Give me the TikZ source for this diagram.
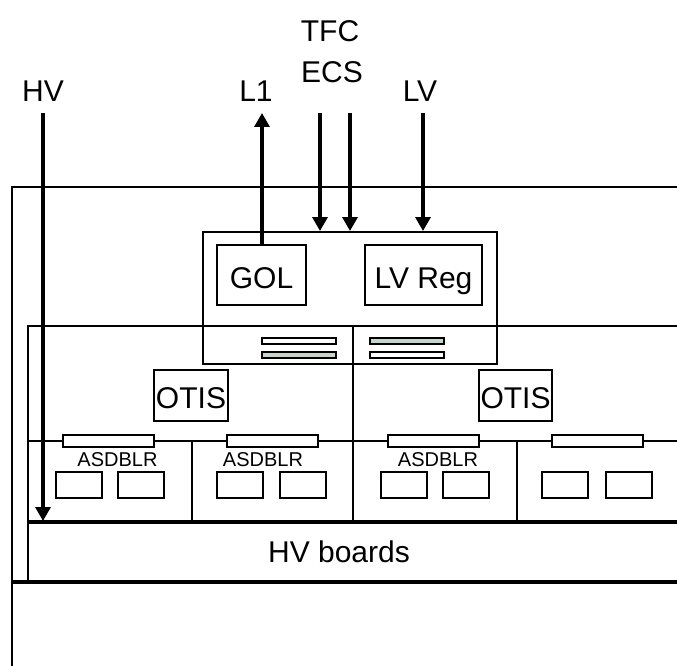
\documentclass[tikz,border=0pt]{standalone}
\usepackage{fontspec}
\setmainfont{Liberation Sans}
\usetikzlibrary{arrows.meta}
\definecolor{bargreen}{RGB}{198,214,204}
\begin{document}
\begin{tikzpicture}[x=1pt,y=-1pt,
  frameline/.style={line width=2pt},
  box/.style={draw, line width=2pt, inner sep=0pt, fill=white},
  bar/.style={draw, line width=1.6pt, inner sep=0pt, fill=white},
  greenbar/.style={bar, fill=bargreen},
  chip/.style={draw, line width=2pt, inner sep=0pt, minimum width=46pt, minimum height=26pt},
  lbl/.style={inner sep=0pt, anchor=base, font=\fontsize{30}{30}\selectfont},
  small/.style={inner sep=0pt, anchor=base, font=\fontsize{20}{20}\selectfont},
  arr/.style={line width=3.3pt, -{Triangle[width=15pt,length=14pt]}},
]
\useasboundingbox (0,0) rectangle (677,666);

% outer frame
\draw[frameline] (12,670) -- (12,187) -- (680,187);
% panel
\draw[frameline] (28,582) -- (28,326) -- (680,326);
\draw[frameline] (28,441) -- (680,441);
\draw[frameline] (192,441) -- (192,522);
\draw[frameline] (353,326) -- (353,522);
\draw[frameline] (517,441) -- (517,522);
\draw[line width=3.5pt] (28,522) -- (680,522);
\draw[line width=3.2pt] (12,582) -- (680,582);

% control board
\node[draw, line width=2pt, inner sep=0pt, minimum width=294pt, minimum height=132pt] (ctrl) at (350,298) {};
\node[box, minimum width=89pt, minimum height=60pt] (gol) at (261.5,275) {};
\node[lbl] (goltxt) at (261.5,288) {GOL};
\node[box, minimum width=117pt, minimum height=60pt] (lvreg) at (423.5,275) {};
\node[lbl] (lvregtxt) at (423.5,288) {LV Reg};

\node[bar, minimum width=74pt, minimum height=6pt] (b1) at (299,341) {};
\node[greenbar, minimum width=74pt, minimum height=6pt] (b2) at (299,355) {};
\node[greenbar, minimum width=74pt, minimum height=6pt] (b3) at (407,341) {};
\node[bar, minimum width=74pt, minimum height=6pt] (b4) at (407,355) {};

% OTIS
\node[box, minimum width=74pt, minimum height=51pt] (otis1) at (191,395.5) {};
\node[lbl] (otis1txt) at (191,408) {OTIS};
\node[box, minimum width=73pt, minimum height=51pt] (otis2) at (515.5,395.5) {};
\node[lbl] (otis2txt) at (515.5,408) {OTIS};

% ASDBLR bars
\node[bar, minimum width=91pt, minimum height=12pt] (a1) at (108.5,441) {};
\node[bar, minimum width=91pt, minimum height=12pt] (a2) at (272.5,441) {};
\node[bar, minimum width=91pt, minimum height=12pt] (a3) at (433.5,441) {};
\node[bar, minimum width=91pt, minimum height=12pt] (a4) at (597.5,441) {};
\node[small] (as1) at (117.5,466) {ASDBLR};
\node[small] (as2) at (263,466) {ASDBLR};
\node[small] (as3) at (438,466) {ASDBLR};

% chips
\node[chip] (c1) at (78.5,485) {};
\node[chip] (c2) at (141,485) {};
\node[chip] (c3) at (239.5,485) {};
\node[chip] (c4) at (303,485) {};
\node[chip] (c5) at (403.5,485) {};
\node[chip] (c6) at (466,485) {};
\node[chip] (c7) at (565,485) {};
\node[chip] (c8) at (628.5,485) {};

% HV boards
\node[lbl] (hvb) at (339,562) {HV boards};

% labels
\node[lbl] (hv) at (43,102) {HV};
\node[lbl] (l1) at (256,102) {L1};
\node[lbl] (tfc) at (330,42) {TFC};
\node[lbl] (ecs) at (332,83) {ECS};
\node[lbl] (lv) at (420,102) {LV};

\coordinate (hvtop) at (43,113);
\coordinate (hvend) at (43,521);
\coordinate (l1top) at (262,113);
\coordinate (t1) at (320,113);
\coordinate (t2) at (350,113);
\coordinate (lvtop) at (423,113);

\draw[arr] (hvtop) -- (hvend);
\draw[arr] (l1top |- gol.north) -- (l1top);
\draw[arr] (t1) -- (t1 |- ctrl.north);
\draw[arr] (t2) -- (t2 |- ctrl.north);
\draw[arr] (lvtop) -- (lvtop |- ctrl.north);
\end{tikzpicture}
\end{document}
